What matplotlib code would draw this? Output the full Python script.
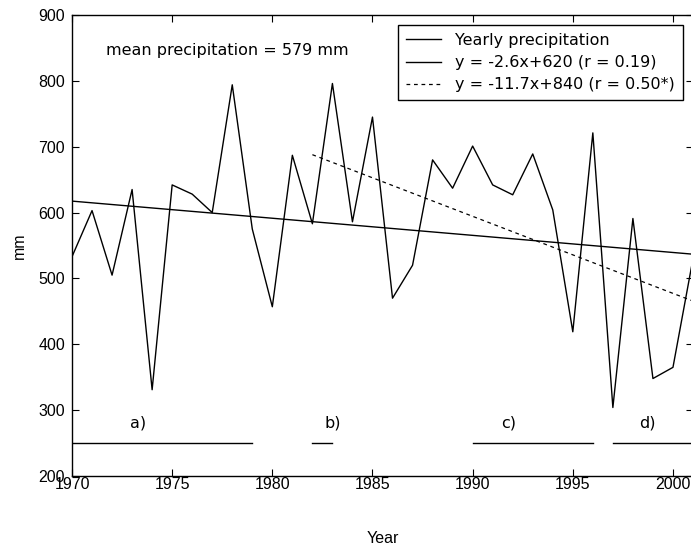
import matplotlib
matplotlib.use('Agg')
import matplotlib.pyplot as plt
import numpy as np

years = np.arange(1970, 2002)
precip = [533, 603, 505, 635, 331, 642, 628, 600, 794, 575,
          457, 687, 583, 796, 586, 745, 470, 520, 680, 637,
          701, 642, 627, 689, 604, 419, 721, 304, 591, 348,
          365, 530]

# trend lines, x counted from 1969
trend_all = (1970, 2001, -2.6, 620)
trend_late = (1982, 2001, -11.7, 840)

periods = [('a)', 1970, 1979, 1972.9), ('b)', 1982, 1983, 1982.6),
           ('c)', 1990, 1996, 1991.4), ('d)', 1997, 2001, 1998.3)]

plt.rcParams['font.family'] = ['Liberation Sans Narrow', 'Liberation Sans', 'DejaVu Sans']
plt.rcParams['xtick.direction'] = 'in'
plt.rcParams['ytick.direction'] = 'in'
wide = ['DejaVu Sans']

fig = plt.figure(figsize=(6.91, 5.56), dpi=100)
ax = fig.add_axes([72/691, 80/556, 621/691, 461/556])

ax.plot(years, precip, color='black', lw=1, label='Yearly precipitation')

x0, x1, k, b = trend_all
xt = np.array([x0, x1])
ax.plot(xt, k*(xt-1969)+b, color='black', lw=1, label='y = -2.6x+620 (r = 0.19)')
x0, x1, k, b = trend_late
xt = np.array([x0, x1])
ax.plot(xt, k*(xt-1969)+b, color='black', lw=0.9, ls=(0, (3, 3)),
        label='y = -11.7x+840 (r = 0.50*)')

for lab, s, e, lx in periods:
    ax.plot([s, e], [250, 250], color='black', lw=1)
    ax.text(lx, 280, lab, fontsize=11.5, ha='left', va='center', family=wide)

ax.text(1971.7, 846, 'mean precipitation = 579 mm', fontsize=11.5,
        ha='left', va='center', family=wide)

ax.set_xlim(1970, 2001)
ax.set_ylim(200, 900)
ax.set_xticks(np.arange(1970, 2001, 5))
ax.set_yticks(np.arange(200, 901, 100))
ax.tick_params(top=True, right=True, labelsize=11.5, length=5)
ax.tick_params(axis='x', pad=1)
ax.tick_params(axis='y', pad=5)
for sp in ax.spines.values():
    sp.set_linewidth(1)

ax.set_xlabel('Year', fontsize=11.5, labelpad=28)
ax.set_ylabel('mm', fontsize=11.5, labelpad=8)

leg = ax.legend(loc='upper right', bbox_to_anchor=(683/691, 1 - 25/556),
                bbox_transform=fig.transFigure, fancybox=False,
                edgecolor='black', framealpha=1, handlelength=2.2,
                handletextpad=0.9, borderpad=0.5, labelspacing=0.45,
                borderaxespad=0,
                prop={'family': wide, 'size': 11.5})
leg.get_frame().set_linewidth(1)

fig.savefig('out.png', dpi=100)
